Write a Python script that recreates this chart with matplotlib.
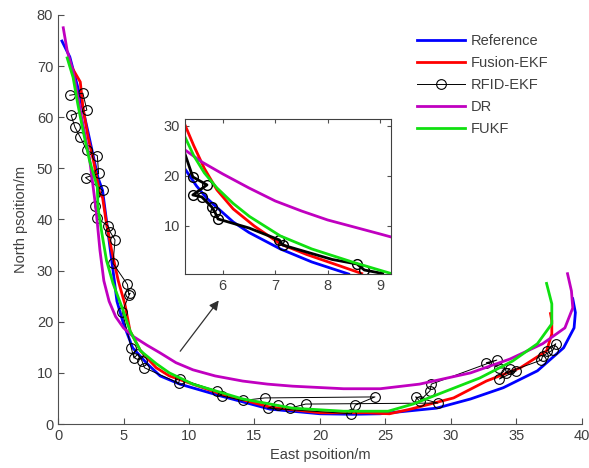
import numpy as np
import matplotlib
matplotlib.use("Agg")
import matplotlib.pyplot as plt

plt.rcParams['font.family'] = ['Liberation Sans', 'DejaVu Sans']
plt.rcParams['font.size'] = 10

# main trajectories (East, North)
ref_x = [0.3, 0.9, 1.6, 2.3, 3.05, 3.4, 3.8, 4.2, 4.5, 5.0, 5.7, 6.8, 7.8, 9.3, 12.4, 16.2, 20.0, 22.5, 24.6, 28.9, 31.5, 34.0, 36.6, 38.6, 39.4, 39.5, 39.3]
ref_y = [74.9, 71.8, 65.0, 57.0, 48.2, 45.7, 37.8, 30.0, 24.0, 19.6, 14.9, 11.8, 9.4, 7.8, 5.5, 2.9, 2.0, 1.9, 2.0, 3.1, 4.9, 7.1, 10.4, 14.9, 18.8, 21.8, 24.5]

fus_x = [1.0, 1.7, 1.9, 2.3, 2.7, 3.2, 3.4, 3.7, 4.1, 4.6, 5.1, 5.5, 6.3, 7.5, 8.5, 12.4, 16.2, 20.0, 23.6, 25.3, 26.9, 30.2, 32.7, 35.3, 37.3, 37.7, 37.7, 37.6]
fus_y = [70.0, 66.9, 62.0, 56.0, 51.6, 45.0, 44.3, 39.2, 33.9, 28.0, 23.5, 18.2, 14.3, 11.0, 9.4, 5.9, 3.3, 2.2, 2.2, 2.0, 2.9, 5.1, 8.4, 11.0, 14.3, 17.6, 20.2, 21.6]

rfid_x = [0.9, 1.9, 2.2, 1.0, 1.3, 1.7, 2.2, 3.0, 3.1, 2.1, 3.4, 2.8, 3.0, 3.8, 4.0, 4.35, 4.2, 5.3, 5.4, 5.5, 4.9, 5.6, 5.8, 6.1, 6.4, 6.6, 9.2, 9.3, 12.1, 12.5, 14.1, 15.8, 24.2, 22.7, 22.4, 16.0, 16.8, 17.7, 18.9, 29.0, 27.3, 27.6, 28.4, 28.5, 33.5, 32.7, 33.7, 34.5, 33.7, 35.0, 34.2, 36.9, 37.0, 37.8, 38.0, 37.3]
rfid_y = [64.3, 64.7, 61.4, 60.4, 58.0, 56.1, 53.5, 52.5, 49.0, 48.2, 45.7, 42.7, 40.2, 38.8, 37.5, 36.0, 31.4, 27.3, 25.3, 25.6, 22.0, 14.8, 12.9, 13.7, 12.4, 11.0, 8.0, 8.8, 6.5, 5.5, 4.6, 5.1, 5.3, 3.7, 2.0, 3.1, 3.7, 3.1, 3.9, 4.1, 5.3, 4.5, 6.5, 7.8, 12.5, 12.0, 11.0, 10.8, 8.8, 10.4, 10.0, 12.5, 13.3, 14.5, 15.7, 14.3]

dr_x = [0.4, 0.7, 1.15, 1.8, 2.4, 2.9, 3.2, 3.5, 3.9, 4.4, 5.0, 5.7, 6.8, 7.8, 9.0, 10.3, 12.0, 14.1, 16.0, 17.9, 21.8, 24.6, 27.6, 31.5, 34.5, 37.0, 38.7, 39.3, 39.2, 38.9]
dr_y = [77.5, 73.0, 69.0, 60.0, 52.0, 42.0, 34.0, 28.0, 24.0, 21.0, 18.8, 17.2, 15.4, 13.9, 12.0, 10.6, 9.4, 8.4, 7.8, 7.4, 6.9, 6.9, 7.8, 10.0, 12.7, 15.7, 18.8, 22.7, 26.0, 29.4]

fukf_x = [0.7, 1.15, 1.5, 1.9, 2.4, 3.0, 3.05, 3.35, 3.7, 4.2, 4.9, 5.5, 6.3, 7.5, 8.5, 10.3, 14.1, 17.9, 21.8, 25.2, 27.1, 29.7, 32.2, 34.7, 36.6, 37.7, 37.7, 37.3]
fukf_y = [71.6, 67.8, 62.7, 57.5, 51.6, 46.3, 42.4, 37.3, 32.0, 27.5, 22.7, 18.2, 14.3, 11.8, 10.0, 7.8, 4.9, 3.1, 2.5, 2.5, 3.9, 6.5, 9.0, 12.3, 15.7, 19.6, 23.5, 27.5]

# zoomed inset
in_ref_x = [5.28, 5.5, 5.7, 5.9, 6.2, 6.5, 7.1, 7.7, 8.4]
in_ref_y = [21.4, 18.0, 15.5, 13.6, 10.8, 8.7, 5.4, 2.8, 0.4]
in_fus_x = [5.28, 5.45, 5.65, 5.89, 6.2, 6.6, 7.1, 7.6, 8.1, 8.65]
in_fus_y = [30.2, 26.0, 21.5, 17.2, 13.4, 10.0, 6.4, 4.3, 2.5, 0.5]
in_rfid_x = [5.28, 5.43, 5.70, 5.43, 5.60, 5.79, 5.85, 5.91, 6.50, 7.08, 7.14, 8.09, 8.56, 8.70, 9.05]
in_rfid_y = [24.4, 19.8, 18.2, 16.2, 15.8, 13.8, 12.8, 11.4, 9.6, 7.2, 6.2, 3.3, 2.4, 1.2, 0.5]
in_rfid_marks = [1, 2, 3, 4, 5, 6, 7, 9, 10, 12, 13]
in_dr_x = [5.28, 5.6, 6.0, 6.5, 7.0, 7.5, 8.0, 8.5, 9.0, 9.21]
in_dr_y = [25.2, 22.8, 20.4, 17.6, 15.0, 13.0, 11.2, 9.8, 8.4, 7.8]
in_fukf_x = [5.28, 5.45, 5.65, 5.89, 6.2, 6.51, 7.1, 7.7, 8.5, 9.21]
in_fukf_y = [27.8, 24.0, 20.6, 17.6, 14.5, 11.9, 8.0, 5.4, 2.7, 0.5]

labels = ['Reference', 'Fusion-EKF', 'RFID-EKF', 'DR', 'FUKF']
c_ref, c_fus, c_dr, c_fukf = '#0000ff', '#ff0000', '#c000c0', '#10e010'
txt = '#404040'

fig = plt.figure(figsize=(5.89, 4.68), dpi=100)
ax = fig.add_axes([0.0985, 0.094, 0.8895, 0.874])

h1, = ax.plot(ref_x, ref_y, color=c_ref, lw=2)
h2, = ax.plot(fus_x, fus_y, color=c_fus, lw=2)
h3, = ax.plot(rfid_x, rfid_y, color='k', lw=0.7, marker='o', ms=7, mfc='none', mec='k', mew=0.8)
h4, = ax.plot(dr_x, dr_y, color=c_dr, lw=2)
h5, = ax.plot(fukf_x, fukf_y, color=c_fukf, lw=2)

ax.set_xlim(0, 40)
ax.set_ylim(0, 80)
ax.set_xticks(range(0, 41, 5))
ax.set_yticks(range(0, 81, 10))
ax.spines['top'].set_visible(False)
ax.spines['right'].set_visible(False)
for s in ['left', 'bottom']:
    ax.spines[s].set_color('#505050')
ax.tick_params(direction='in', colors='#505050', labelcolor=txt, labelsize=10.5, length=4)
ax.set_xlabel('East psoition/m', color=txt, fontsize=10.5, labelpad=4)
ax.set_ylabel('North psoition/m', color=txt, fontsize=10.5, labelpad=6)

ax.annotate('', xy=(12.4, 24.6), xytext=(9.2, 13.8),
            arrowprops=dict(arrowstyle='-|>', color='#303030', lw=0.9, mutation_scale=14))

fig.legend([h1, h2, h3, h4, h5], labels, loc='upper left', bbox_to_anchor=(0.685, 0.955),
           frameon=False, fontsize=10.5, handlelength=3.3, labelspacing=0.55,
           handletextpad=0.4, labelcolor=txt)

ins = fig.add_axes([0.314, 0.4145, 0.35, 0.3315])
ins.plot(in_ref_x, in_ref_y, color=c_ref, lw=2)
ins.plot(in_fus_x, in_fus_y, color=c_fus, lw=2)
ins.plot(in_rfid_x, in_rfid_y, color='k', lw=2, marker='o', ms=7, mfc='none', mec='k',
         mew=1.0, markevery=in_rfid_marks)
ins.plot(in_dr_x, in_dr_y, color=c_dr, lw=2)
ins.plot(in_fukf_x, in_fukf_y, color=c_fukf, lw=2)
ins.set_xlim(5.28, 9.21)
ins.set_ylim(0.4, 31.4)
ins.set_xticks([6, 7, 8, 9])
ins.set_yticks([10, 20, 30])
for s in ins.spines.values():
    s.set_color('#404040')
ins.tick_params(direction='in', top=True, right=True, colors='#505050', labelcolor=txt,
                labelsize=10.5, length=3)

fig.savefig('out.png', dpi=100)
